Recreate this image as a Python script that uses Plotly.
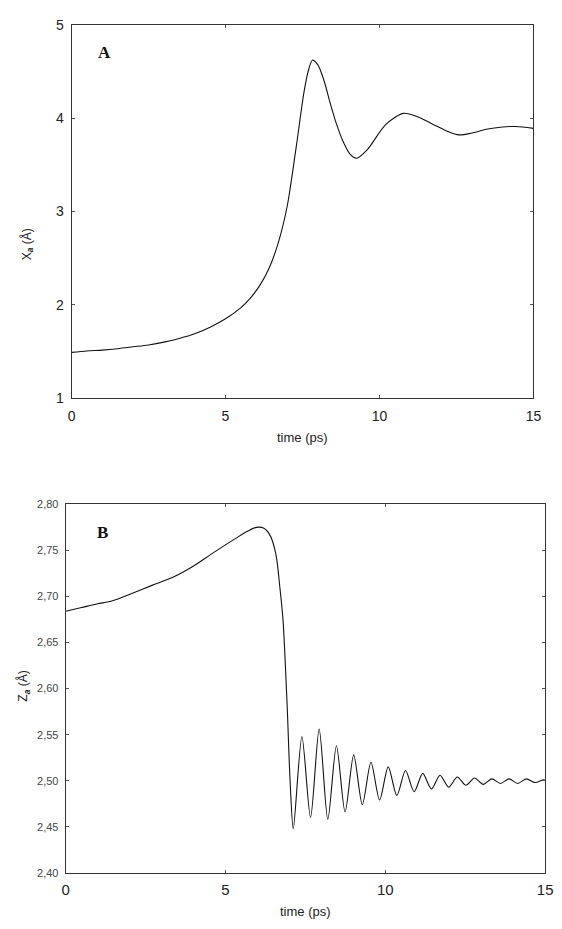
import plotly.graph_objects as go

# Panel A: X_a displacement versus time
time_a = [0.0, 0.5, 1.0, 1.5, 2.0, 2.5, 3.0, 3.5, 4.0, 4.5, 5.0, 5.5, 5.8, 6.1,
          6.4, 6.7, 7.0, 7.3, 7.55, 7.7, 7.82, 8.0, 8.2, 8.4, 8.6, 8.83, 9.05,
          9.25, 9.6, 10.2, 10.77, 11.2, 11.7, 12.2, 12.58, 13.0, 13.47, 14.0,
          14.43, 15.0]
xa = [1.49, 1.505, 1.515, 1.53, 1.55, 1.57, 1.60, 1.64, 1.69, 1.76, 1.85, 1.97,
      2.07, 2.20, 2.38, 2.65, 3.05, 3.70, 4.28, 4.52, 4.62, 4.57, 4.40, 4.16,
      3.94, 3.74, 3.61, 3.57, 3.66, 3.93, 4.05, 4.02, 3.94, 3.86, 3.82, 3.84,
      3.88, 3.905, 3.91, 3.89]

# Panel B: Z_a displacement versus time
time_b = [0.0, 0.5, 1.0, 1.44, 2.05, 2.7, 3.37, 4.0, 4.6, 5.32, 5.7, 5.97, 6.2,
          6.4, 6.58, 6.7, 6.8, 6.93, 7.02, 7.12,
          7.39, 7.66, 7.93, 8.20, 8.47, 8.74, 9.01, 9.28, 9.55, 9.82, 10.09,
          10.36, 10.63, 10.90, 11.17, 11.44, 11.71, 11.98, 12.25, 12.52, 12.79,
          13.06, 13.33, 13.60, 13.87, 14.14, 14.41, 14.68, 14.95, 15.0]
za = [2.684, 2.688, 2.692, 2.695, 2.703, 2.712, 2.721, 2.733, 2.747, 2.763, 2.771,
      2.775, 2.774, 2.766, 2.745, 2.71, 2.674, 2.58, 2.50, 2.448,
      2.548, 2.460, 2.556, 2.458, 2.538, 2.466, 2.528, 2.474, 2.520, 2.479,
      2.515, 2.484, 2.511, 2.488, 2.508, 2.491, 2.506, 2.493, 2.504, 2.495,
      2.503, 2.496, 2.502, 2.497, 2.502, 2.497, 2.502, 2.498, 2.501, 2.500]

x_ticks = [0, 5, 10, 15]
ya_ticks = [1, 2, 3, 4, 5]
yb_ticks = [2.40, 2.45, 2.50, 2.55, 2.60, 2.65, 2.70, 2.75, 2.80]
yb_labels = [f"{v:.2f}".replace(".", ",") for v in yb_ticks]

W, H = 562, 929
fig = go.Figure()
line = dict(color="#111111", width=1.1, shape="spline", smoothing=0.8)
fig.add_trace(go.Scatter(x=time_a, y=xa, mode="lines", line=line,
                         xaxis="x", yaxis="y", showlegend=False))
fig.add_trace(go.Scatter(x=time_b, y=za, mode="lines", line=line,
                         xaxis="x2", yaxis="y2", showlegend=False))

frame = dict(showline=True, linecolor="#333333", linewidth=1, mirror="ticks",
             ticks="inside", ticklen=3, tickcolor="#555555", showgrid=False,
             zeroline=False)

fig.update_layout(
    width=W, height=H, margin=dict(l=0, r=0, t=0, b=0),
    paper_bgcolor="white", plot_bgcolor="white",
    font=dict(family="Liberation Sans, Arial, sans-serif", color="#222222"),
    xaxis=dict(domain=[69 / W, 541 / W], range=[0, 15], tickvals=x_ticks,
               tickfont=dict(size=14), anchor="y", ticklabelstandoff=5, **frame),
    yaxis=dict(domain=[1 - 397 / H, 1 - 17 / H], range=[1, 5], tickvals=ya_ticks,
               tickfont=dict(size=14), anchor="x", ticklabelstandoff=4, **frame),
    xaxis2=dict(domain=[63 / W, 553 / W], range=[0, 15], tickvals=x_ticks,
                tickfont=dict(size=15), anchor="y2", ticklabelstandoff=3, **frame),
    yaxis2=dict(domain=[1 - 880 / H, 1 - 505 / H], range=[2.40, 2.80],
                tickvals=yb_ticks, ticktext=yb_labels,
                tickfont=dict(size=11, color="#444444"), anchor="x2",
                ticklabelstandoff=4, **frame),
)

ann = [
    dict(text="time (ps)", x=305 / W, y=1 - 437 / H, font=dict(size=13)),
    dict(text="time (ps)", x=308 / W, y=1 - 919 / H, font=dict(size=13)),
    dict(text="X<sub><b><i>a</i></b></sub> (Å)", x=24 / W, y=1 - 240 / H,
         textangle=-90, font=dict(size=12)),
    dict(text="Z<sub><b><i>a</i></b></sub> (Å)", x=20 / W, y=1 - 690 / H,
         textangle=-90, font=dict(size=12)),
    dict(text="<b>A</b>", x=103 / W, y=1 - 45 / H,
         font=dict(size=17, family="Liberation Serif, serif", color="#111111")),
    dict(text="<b>B</b>", x=101 / W, y=1 - 534 / H,
         font=dict(size=17, family="Liberation Serif, serif", color="#111111")),
]
for a in ann:
    a.update(xref="paper", yref="paper", showarrow=False,
             xanchor="center", yanchor="middle")
fig.update_layout(annotations=ann)

fig.write_html("out.html")
